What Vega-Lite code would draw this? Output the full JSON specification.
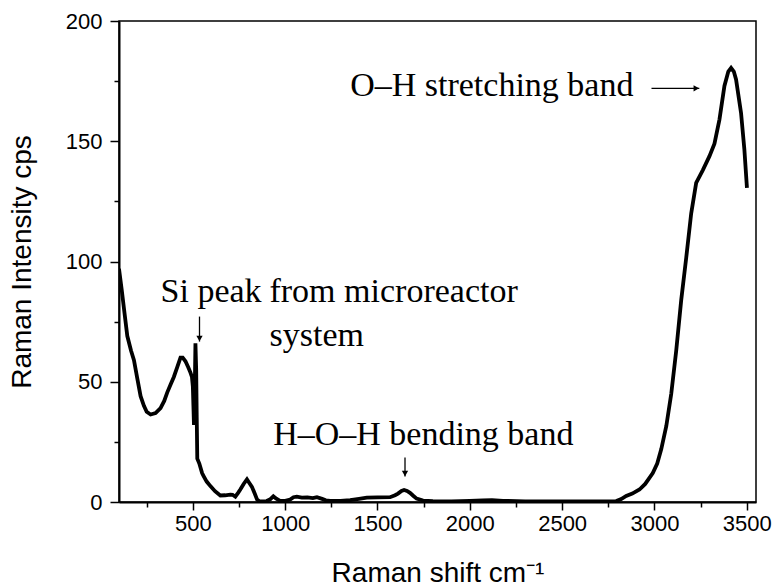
{
  "$schema": "https://vega.github.io/schema/vega-lite/v6.json",
  "width": 637,
  "height": 481,
  "autosize": {"type": "none"},
  "padding": {"left": 119, "top": 21, "right": 23, "bottom": 86},
  "background": "white",
  "config": {
    "view": {"stroke": "black", "strokeWidth": 1.5},
    "axis": {
      "domainColor": "black", "domainWidth": 2, "tickColor": "black", "tickWidth": 1.5,
      "labelColor": "black", "titleColor": "black", "labelFont": "Liberation Sans", "titleFont": "Liberation Sans",
      "labelFontSize": 22, "titleFontSize": 28, "titleFontWeight": "normal", "grid": false
    }
  },
  "datasets": {
    "spectrum": [
      {"shift":100,"intensity":97},{"shift":115,"intensity":88},{"shift":126,"intensity":81},{"shift":145,"intensity":69},
      {"shift":165,"intensity":63},{"shift":181,"intensity":59},{"shift":200,"intensity":51},{"shift":217,"intensity":44},
      {"shift":235,"intensity":40},{"shift":250,"intensity":37.5},{"shift":271,"intensity":36.4},{"shift":298,"intensity":37},
      {"shift":325,"intensity":39},{"shift":345,"intensity":42},{"shift":361,"intensity":45.5},{"shift":380,"intensity":49},
      {"shift":397,"intensity":52},{"shift":415,"intensity":56},{"shift":433,"intensity":60},{"shift":445,"intensity":60},
      {"shift":460,"intensity":58.5},{"shift":475,"intensity":56},{"shift":487,"intensity":53.8},{"shift":495,"intensity":52},
      {"shift":500,"intensity":48},{"shift":503,"intensity":40},{"shift":506,"intensity":32},{"shift":510,"intensity":45},
      {"shift":514,"intensity":66},{"shift":518,"intensity":55},{"shift":521,"intensity":35},{"shift":524,"intensity":18},
      {"shift":535,"intensity":16},{"shift":550,"intensity":12},{"shift":559,"intensity":10.7},{"shift":575,"intensity":8.5},
      {"shift":595,"intensity":6.6},{"shift":620,"intensity":4.5},{"shift":649,"intensity":2.7},{"shift":675,"intensity":2.8},
      {"shift":703,"intensity":3.1},{"shift":715,"intensity":3},{"shift":730,"intensity":2.2},{"shift":745,"intensity":3.8},
      {"shift":757,"intensity":5.2},{"shift":775,"intensity":7.5},{"shift":793,"intensity":9.4},{"shift":805,"intensity":8},
      {"shift":820,"intensity":6.3},{"shift":835,"intensity":3.5},{"shift":848,"intensity":1},{"shift":860,"intensity":0.3},
      {"shift":900,"intensity":0.4},{"shift":920,"intensity":1.2},{"shift":936,"intensity":2.4},{"shift":950,"intensity":1.5},
      {"shift":970,"intensity":0.6},{"shift":1000,"intensity":0.5},{"shift":1027,"intensity":1},{"shift":1045,"intensity":2},
      {"shift":1063,"intensity":2.2},{"shift":1090,"intensity":1.8},{"shift":1120,"intensity":1.9},{"shift":1150,"intensity":1.6},
      {"shift":1172,"intensity":2},{"shift":1200,"intensity":1.3},{"shift":1220,"intensity":0.7},{"shift":1244,"intensity":0.5},
      {"shift":1300,"intensity":0.5},{"shift":1352,"intensity":0.8},{"shift":1400,"intensity":1.3},{"shift":1442,"intensity":1.8},
      {"shift":1500,"intensity":1.9},{"shift":1568,"intensity":2},{"shift":1595,"intensity":2.8},{"shift":1611,"intensity":3.5},
      {"shift":1630,"intensity":4.6},{"shift":1644,"intensity":5},{"shift":1660,"intensity":4.6},{"shift":1676,"intensity":3.8},
      {"shift":1695,"intensity":2.5},{"shift":1712,"intensity":1.4},{"shift":1747,"intensity":0.6},{"shift":1800,"intensity":0.4},
      {"shift":1900,"intensity":0.3},{"shift":2000,"intensity":0.5},{"shift":2070,"intensity":0.7},{"shift":2120,"intensity":0.8},
      {"shift":2180,"intensity":0.5},{"shift":2300,"intensity":0.3},{"shift":2400,"intensity":0.3},{"shift":2500,"intensity":0.3},
      {"shift":2600,"intensity":0.3},{"shift":2700,"intensity":0.3},{"shift":2793,"intensity":0.4},{"shift":2820,"intensity":1.2},
      {"shift":2847,"intensity":2.5},{"shift":2880,"intensity":3.5},{"shift":2919,"intensity":5.2},{"shift":2950,"intensity":7.5},
      {"shift":2991,"intensity":12},{"shift":3015,"intensity":16},{"shift":3037,"intensity":22},{"shift":3064,"intensity":31.5},
      {"shift":3091,"intensity":45},{"shift":3118,"intensity":63},{"shift":3145,"intensity":84},{"shift":3172,"intensity":101.5},
      {"shift":3199,"intensity":120},{"shift":3226,"intensity":132.7},{"shift":3262,"intensity":138},{"shift":3298,"intensity":143.8},
      {"shift":3325,"intensity":149},{"shift":3352,"intensity":159},{"shift":3379,"intensity":173},{"shift":3400,"intensity":179},
      {"shift":3415,"intensity":180.5},{"shift":3430,"intensity":179},{"shift":3442,"intensity":175.7},{"shift":3469,"intensity":161.8},
      {"shift":3487,"intensity":146.6},{"shift":3501,"intensity":130.6}
    ],
    "labels": [
      {"label":"O–H stretching band","x":1352,"y":169},
      {"label":"Si peak","x":325,"y":83},
      {"label":"from microreactor","x":915,"y":83},
      {"label":"system","x":915,"y":64.7},
      {"label":"H–O–H bending band","x":935,"y":23.5}
    ],
    "arrows": [
      {"dir":"right","x":2984,"y":172,"x2":3243,"y2":172},
      {"dir":"down","x":536,"y":77.1,"x2":536,"y2":66.7},
      {"dir":"down","x":1649,"y":18.5,"x2":1649,"y2":10.6}
    ]
  },
  "layer": [
    {
      "data": {"name": "spectrum"},
      "mark": {"type": "line", "color": "black", "strokeWidth": 3.8, "clip": true},
      "encoding": {
        "x": {"field": "shift", "type": "quantitative",
          "scale": {"domain": [100, 3550], "nice": false, "zero": false},
          "axis": {"title": "Raman shift cm⁻¹", "values": [250,500,750,1000,1250,1500,1750,2000,2250,2500,2750,3000,3250,3500],
            "labelExpr": "datum.value % 500 === 0 ? datum.label : ''",
            "tickSize": {"condition": {"test": "datum.value % 500 === 0", "value": 8}, "value": 5},
            "labelPadding": 3, "titlePadding": 25, "format": "d"}},
        "y": {"field": "intensity", "type": "quantitative",
          "scale": {"domain": [0, 200], "nice": false},
          "axis": {"title": "Raman Intensity cps", "values": [0,25,50,75,100,125,150,175,200],
            "labelExpr": "datum.value % 50 === 0 ? datum.label : ''",
            "tickSize": {"condition": {"test": "datum.value % 50 === 0", "value": 9}, "value": 5},
            "labelPadding": 8, "titlePadding": 29}}
      }
    },
    {
      "data": {"name": "arrows"},
      "mark": {"type": "rule", "color": "black", "strokeWidth": 1.3},
      "encoding": {
        "x": {"field": "x", "type": "quantitative"},
        "y": {"field": "y", "type": "quantitative"},
        "x2": {"field": "x2"},
        "y2": {"field": "y2"}
      }
    },
    {
      "data": {"name": "arrows"},
      "transform": [{"filter": "datum.dir === 'down'"}],
      "mark": {"type": "point", "shape": "triangle-down", "filled": true, "color": "black", "size": 40, "opacity": 1, "yOffset": -3},
      "encoding": {
        "x": {"field": "x2", "type": "quantitative"},
        "y": {"field": "y2", "type": "quantitative"}
      }
    },
    {
      "data": {"name": "arrows"},
      "transform": [{"filter": "datum.dir === 'right'"}],
      "mark": {"type": "point", "shape": "triangle-right", "filled": true, "color": "black", "size": 40, "opacity": 1, "xOffset": -3},
      "encoding": {
        "x": {"field": "x2", "type": "quantitative"},
        "y": {"field": "y2", "type": "quantitative"}
      }
    },
    {
      "data": {"name": "labels"},
      "mark": {"type": "text", "align": "left", "baseline": "alphabetic", "font": "Liberation Serif", "fontSize": 34, "color": "black"},
      "encoding": {
        "x": {"field": "x", "type": "quantitative"},
        "y": {"field": "y", "type": "quantitative"},
        "text": {"field": "label"}
      }
    }
  ]
}
